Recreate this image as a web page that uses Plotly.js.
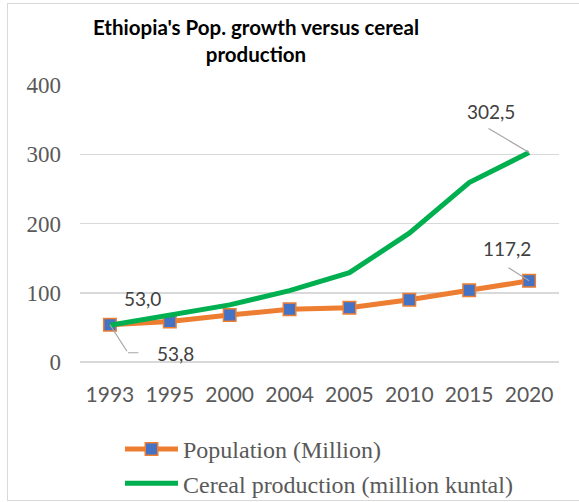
<!DOCTYPE html>
<html>
<head>
<meta charset="utf-8">
<script src="https://cdn.plot.ly/plotly-3.0.1.min.js"></script>
<style>
  html, body { margin: 0; padding: 0; background: #ffffff; }
  #chart { width: 579px; height: 502px; position: absolute; left: 0; top: 0; }
  #frame { position: absolute; left: 7px; top: 3px; width: 620px; height: 496px;
           border: 1.5px solid #d9d9d9; pointer-events: none; }
</style>
</head>
<body>
<div id="chart"></div>
<div id="frame"></div>
<script>
// Years shown on the category axis
const years = ['1993', '1995', '2000', '2004', '2005', '2010', '2015', '2020'];
// Population, millions
const population = [53.8, 58.4, 67.8, 76.0, 78.5, 90.0, 103.5, 117.2];
// Cereal production, million kuntal
const cereal = [53.0, 68.5, 82.5, 103.0, 129.0, 186.0, 259.0, 302.5];
// Y axis ticks
const yTicks = [0, 100, 200, 300, 400];

const serif = '"Liberation Serif", "Times New Roman", serif';
const sans = 'Lato, "Open Sans", sans-serif';
const labelColor = '#404040';

// decimal comma, one digit
const fmt = v => v.toFixed(1).replace('.', ',');

const traces = [
  {
    x: years, y: population, type: 'scatter', mode: 'lines+markers',
    name: 'Population (Million)',
    line: { color: '#ED7D31', width: 5 },
    marker: { symbol: 'square', size: 12.5, color: '#4472C4',
              line: { color: '#ED7D31', width: 1.5 } }
  },
  {
    x: years, y: cereal, type: 'scatter', mode: 'lines',
    name: 'Cereal production (million kuntal)',
    line: { color: '#00B050', width: 5 }
  }
];

// category annotations are placed by index along the x axis
const last = years.length - 1;
const labelFont = { family: sans, size: 19, color: labelColor };
function valueLabel(i, v, dx, dy) {
  return { xref: 'x', yref: 'y', x: i, y: v, text: fmt(v), showarrow: false,
           xshift: dx, yshift: dy, font: labelFont };
}
function leaderLine(i, v, ax, ay, dx, dy) {
  return { xref: 'x', yref: 'y', x: i, y: v, text: '', showarrow: true,
           axref: 'pixel', ayref: 'pixel', ax: ax, ay: ay,
           xshift: dx || 0, yshift: dy || 0,
           arrowhead: 0, arrowwidth: 1.2, arrowcolor: '#a6a6a6' };
}
const annotations = [
  valueLabel(last, cereal[last], -38, 41),
  leaderLine(last, cereal[last], -42, -25),
  valueLabel(last, population[last], -22, 32),
  leaderLine(last, population[last], -22, -14),
  valueLabel(0, cereal[0], 33, 27),
  valueLabel(0, population[0], 66, -29),
  leaderLine(0, population[0], 18, 28),
  leaderLine(0, population[0], 12, 0, 18, -28)
];

const layout = {
  width: 579, height: 502,
  margin: { l: 80, r: 20, t: 85, b: 140, autoexpand: false },
  paper_bgcolor: '#ffffff', plot_bgcolor: '#ffffff',
  title: {
    text: "Ethiopia's Pop. growth versus cereal<br>production",
    font: { family: sans, size: 20.5, color: '#000000', weight: 'bold' },
    x: 256 / 579, xanchor: 'center', xref: 'container',
    y: 1 - 35 / 502, yanchor: 'middle', yref: 'container'
  },
  xaxis: {
    type: 'category', range: [-0.5, years.length - 0.5],
    showgrid: false, zeroline: false, showline: false, ticks: '',
    tickfont: { family: sans, size: 21, color: '#595959' },
    tickangle: 0, automargin: false,
    ticklabelstandoff: 18, fixedrange: true
  },
  yaxis: {
    range: [0, 400], tickvals: yTicks, ticktext: yTicks.map(String),
    showgrid: true, gridcolor: '#d9d9d9', gridwidth: 1.5,
    zeroline: true, zerolinecolor: '#d9d9d9', zerolinewidth: 1.5,
    showline: false, ticks: '', automargin: false,
    tickfont: { family: serif, size: 23, color: '#595959' },
    ticklabelstandoff: 18, fixedrange: true
  },
  showlegend: true,
  legend: {
    orientation: 'v', xref: 'container', yref: 'container',
    x: 120 / 579, xanchor: 'left', y: 1 - 427 / 502, yanchor: 'top',
    font: { family: serif, size: 24, color: '#595959' },
    itemwidth: 53, tracegroupgap: 0, bgcolor: 'rgba(0,0,0,0)'
  },
  annotations: annotations
};

Plotly.newPlot('chart', traces, layout, { displayModeBar: false, staticPlot: true });
</script>
</body>
</html>
